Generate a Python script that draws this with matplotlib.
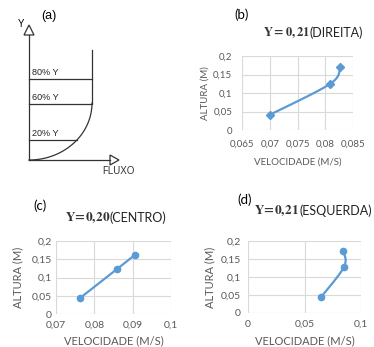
import matplotlib
matplotlib.use("Agg")
import matplotlib.pyplot as plt
import numpy as np
from matplotlib.patches import Polygon

plt.rcParams["mathtext.fontset"] = "stix"

W, H = 374, 347

# panel (b) DIREITA
b_vel = [0.0700, 0.0809, 0.0827]
b_alt = [0.041, 0.125, 0.170]
b_xticks = [0.065, 0.070, 0.075, 0.080, 0.085]
b_xlabels = ["0,065", "0,07", "0,075", "0,08", "0,085"]

# panel (c) CENTRO
c_vel = [0.0763, 0.0859, 0.0906]
c_alt = [0.044, 0.123, 0.162]
c_xticks = [0.07, 0.08, 0.09, 0.10]
c_xlabels = ["0,07", "0,08", "0,09", "0,1"]

# panel (d) ESQUERDA
d_vel = [0.0646, 0.0850, 0.0845]
d_alt = [0.044, 0.128, 0.171]
d_xticks = [0.0, 0.05, 0.10]
d_xlabels = ["0", "0,05", "0,1"]

yticks = [0, 0.05, 0.10, 0.15, 0.20]
ylabels = ["0", "0,05", "0,1", "0,15", "0,2"]

# schematic (a) levels
level_names = ["80% Y", "60% Y", "20% Y"]
level_y = [79, 104, 140]

BLUE = "#5B9BD5"
GREY = "#595959"
SANS = ["Lato", "DejaVu Sans"]


def px_axes(fig, l, t, r, b):
    return fig.add_axes([l / W, 1 - b / H, (r - l) / W, (b - t) / H])


def smooth(x, y, xlim, ylim, n=30):
    # catmull-rom in normalized axes space (like excel smoothed line)
    xs = (np.asarray(x) - xlim[0]) / (xlim[1] - xlim[0])
    ys = (np.asarray(y) - ylim[0]) / (ylim[1] - ylim[0])
    p = np.column_stack([xs, ys])
    p = np.vstack([p[0], p, p[-1]])
    out = []
    t = np.linspace(0, 1, n)[:, None]
    for i in range(1, len(p) - 2):
        p0, p1, p2, p3 = p[i - 1], p[i], p[i + 1], p[i + 2]
        seg = 0.5 * ((2 * p1) + (-p0 + p2) * t + (2 * p0 - 5 * p1 + 4 * p2 - p3) * t ** 2
                     + (-p0 + 3 * p1 - 3 * p2 + p3) * t ** 3)
        out.append(seg)
    out = np.vstack(out)
    return (out[:, 0] * (xlim[1] - xlim[0]) + xlim[0],
            out[:, 1] * (ylim[1] - ylim[0]) + ylim[0])


def chart(ax, vel, alt, xticks, xlabels, marker, ms, fs, lfs, ypad, xpad, ylab_x, xlab_y):
    xlim = (xticks[0], xticks[-1])
    ylim = (0, 0.2)
    sx, sy = smooth(vel, alt, xlim, ylim)
    ax.plot(sx, sy, color=BLUE, lw=1.6, solid_capstyle="round")
    ax.plot(vel, alt, ls="none", marker=marker, ms=ms, color=BLUE)
    ax.set_xlim(*xlim)
    ax.set_ylim(*ylim)
    ax.set_xticks(xticks)
    ax.set_xticklabels(xlabels)
    ax.set_yticks(yticks)
    ax.set_yticklabels(ylabels)
    ax.tick_params(length=0, labelsize=fs, labelcolor=GREY)
    ax.tick_params(axis="y", pad=ypad)
    ax.tick_params(axis="x", pad=xpad)
    for lab in ax.get_xticklabels() + ax.get_yticklabels():
        lab.set_family(SANS)
    for s in ax.spines.values():
        s.set_visible(False)
    ax.grid(True, color="#D9D9D9", lw=0.8)
    ax.set_axisbelow(True)
    ax.set_ylabel("ALTURA (M)", fontsize=lfs, color=GREY, family=SANS)
    ax.set_xlabel("VELOCIDADE (M/S)", fontsize=lfs, color=GREY, family=SANS)
    # place axis labels at pixel positions
    bb = ax.get_position()
    l, b0, w, h = bb.x0 * W, (1 - bb.y0) * H, bb.width * W, bb.height * H
    ax.yaxis.set_label_coords((ylab_x - l) / w, 0.5)
    ax.xaxis.set_label_coords(0.5, (b0 - xlab_y) / h)
    ax.yaxis.label.set_va("center")
    ax.xaxis.label.set_va("center")


def title(fig, xsplit, y, num, name, fs_num, fs):
    fig.text(xsplit / W, 1 - y / H, num, ha="right", va="center", fontsize=fs_num,
             color="#333333")
    fig.text(xsplit / W, 1 - y / H, name, ha="left", va="center", fontsize=fs,
             family=SANS, color="#222222")


fig = plt.figure(figsize=(W / 100, H / 100), dpi=100)

# (a) schematic, drawn in pixel-like units
ax = fig.add_axes([0, 1 - 180 / H, 187 / W, 180 / H])
ax.set_xlim(0, 187)
ax.set_ylim(180, 0)
ax.axis("off")
lc = "#333333"
ox, oy = 29, 160
ax.plot([ox, ox], [oy, 35], color=lc, lw=0.9)
ax.add_patch(Polygon([[ox - 5, 35], [ox + 5, 35], [ox, 25]], closed=True, fill=False,
                     ec=lc, lw=0.9))
ax.plot([ox, 110], [oy, oy], color=lc, lw=0.9)
ax.add_patch(Polygon([[110, oy - 5], [110, oy + 5], [119, oy]], closed=True, fill=False,
                     ec=lc, lw=0.9))
# velocity profile: quarter ellipse + vertical wall
cx, cy, rx, ry = ox, 103, 63, oy - 103
th = np.linspace(0, np.pi / 2, 60)
px = cx + rx * np.sin(th)
py = cy + ry * np.cos(th)
ax.plot(px, py, color=lc, lw=0.9)
ax.plot([cx + rx, cx + rx], [cy, 50], color=lc, lw=0.9)
for name, ly in zip(level_names, level_y):
    if ly >= cy:
        xr = cx + rx * np.sqrt(1 - ((ly - cy) / ry) ** 2)
    else:
        xr = cx + rx
    ax.plot([ox, xr], [ly, ly], color=lc, lw=0.9)
    ax.text(ox + 3, ly - 2, name, fontsize=6.5, family="Liberation Sans", color="#222222",
            va="bottom", ha="left")
ax.text(ox - 8, 24, "Y", fontsize=7, family="Liberation Sans", ha="center", va="center")
ax.text(118, 171, "FLUXO", fontsize=7, family="Liberation Sans", ha="center", va="center",
        color="#333333")
ax.text(49, 16, "(a)", fontsize=9, family="Liberation Sans", ha="center", va="center")

# (b)
axb = px_axes(fig, 242, 56, 353, 130)
chart(axb, b_vel, b_alt, b_xticks, b_xlabels, "D", 4, 7, 7, 7, 7, 205, 162)
fig.text(242 / W, 1 - 15 / H, "(b)", fontsize=9.5, family=SANS, ha="center", va="center")
title(fig, 310, 33, r"$\mathbf{Y=0,21}$", "(DIREITA)", 9, 9)

# (c)
axc = px_axes(fig, 56, 241, 171, 314)
chart(axc, c_vel, c_alt, c_xticks, c_xlabels, "o", 4.5, 7.5, 8, 3, 5, 18, 341)
fig.text(40 / W, 1 - 206 / H, "(c)", fontsize=9.5, family=SANS, ha="center", va="center")
title(fig, 110, 218, r"$\mathbf{Y\!=\!0,\!20}$", "(CENTRO)", 9.5, 9)

# (d)
axd = px_axes(fig, 248, 241, 361, 313)
chart(axd, d_vel, d_alt, d_xticks, d_xlabels, "o", 4.5, 7.5, 8, 5, 5, 210, 341)
fig.text(245 / W, 1 - 200 / H, "(d)", fontsize=9.5, family=SANS, ha="center", va="center")
title(fig, 299, 211, r"$\mathbf{Y\!=\!0,\!21}$", "(ESQUERDA)", 9.5, 9)

fig.savefig("out.png", dpi=100)
